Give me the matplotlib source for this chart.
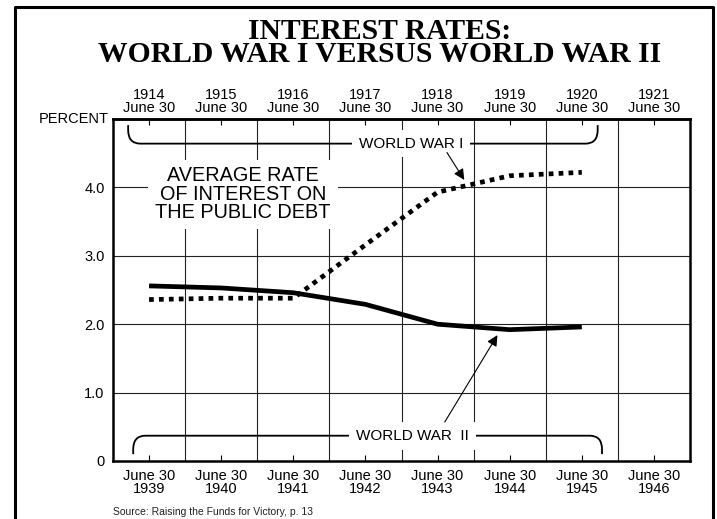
import matplotlib.pyplot as plt
from matplotlib.path import Path
from matplotlib.patches import PathPatch
from matplotlib.lines import Line2D

plt.rcParams['font.family'] = ['Liberation Sans', 'DejaVu Sans']

# data
ww1_years = ['1914', '1915', '1916', '1917', '1918', '1919', '1920', '1921']
ww2_years = ['1939', '1940', '1941', '1942', '1943', '1944', '1945', '1946']
ww1_rate = [2.36, 2.38, 2.38, 3.16, 3.93, 4.17, 4.22]
ww2_rate = [2.56, 2.53, 2.46, 2.29, 2.00, 1.92, 1.96]
y_ticks = [0, 1, 2, 3, 4]
y_labels = ['0', '1.0', '2.0', '3.0', '4.0']

pos = [i + 0.5 for i in range(len(ww1_years))]

fig = plt.figure(figsize=(7.17, 5.19), dpi=100)
ax = fig.add_axes([113 / 717, 1 - 461 / 519, 577 / 717, 342 / 519])
ax.set_xlim(0, 8)
ax.set_ylim(0, 5)

# grid
for gx in range(1, 8):
    ax.axvline(gx, color='#222222', lw=0.8, zorder=1)
for gy in range(1, 5):
    ax.axhline(gy, color='#222222', lw=0.8, zorder=1)

for s in ax.spines.values():
    s.set_linewidth(1.8)

ax.set_yticks(y_ticks)
ax.set_yticklabels(y_labels, fontsize=10.5)
ax.tick_params(axis='y', length=0, pad=6)

ax.set_xticks(pos)
ax.set_xticklabels(['June 30\n' + y for y in ww2_years], fontsize=10.5, linespacing=0.9)
ax.tick_params(axis='x', direction='in', length=4, width=0.8, pad=6)

top = ax.secondary_xaxis('top')
top.set_xticks(pos)
top.set_xticklabels([y + '\nJune 30' for y in ww1_years], fontsize=10.5, linespacing=0.9)
top.tick_params(direction='in', length=4, width=0.8, pad=3)
top.spines['top'].set_linewidth(1.8)

ax.text(-0.06, 5.0, 'PERCENT', ha='right', va='center', fontsize=10.5)

# lines
ax.plot(pos[:7], ww1_rate, color='black', lw=3.4, linestyle=(0, (1, 1.1)),
        dash_capstyle='butt', zorder=4)
ax.plot(pos[:7], ww2_rate, color='black', lw=3.4, solid_capstyle='butt', zorder=4)

# big label
ax.text(1.8, 3.9, 'AVERAGE RATE\nOF INTEREST ON\nTHE PUBLIC DEBT', ha='center',
        va='center', fontsize=14.3, linespacing=0.95, zorder=3,
        bbox=dict(facecolor='white', edgecolor='none', pad=5))


def bracket(x0, x1, yh, yend, rx, ry):
    d = 1 if yend > yh else -1
    verts = [(x0, yend), (x0, yh + d * ry), (x0, yh), (x0 + rx, yh),
             (x1 - rx, yh), (x1, yh), (x1, yh + d * ry), (x1, yend)]
    codes = [Path.MOVETO, Path.LINETO, Path.CURVE3, Path.CURVE3,
             Path.LINETO, Path.CURVE3, Path.CURVE3, Path.LINETO]
    ax.add_patch(PathPatch(Path(verts, codes), fill=False, lw=1.3,
                           color='black', zorder=2))


bracket(0.21, 6.72, 4.64, 4.91, 0.17, 0.2)
bracket(0.28, 6.78, 0.37, 0.10, 0.17, 0.2)

ax.text(4.13, 4.64, 'WORLD WAR I', ha='center', va='center', fontsize=11, zorder=3,
        bbox=dict(facecolor='white', edgecolor='none', pad=5))
ax.text(4.15, 0.37, 'WORLD WAR  II', ha='center', va='center', fontsize=11, zorder=3,
        bbox=dict(facecolor='white', edgecolor='none', pad=5))

ax.annotate('', xy=(4.87, 4.11), xytext=(4.63, 4.51),
            arrowprops=dict(arrowstyle='-|>', lw=0.8, color='black', mutation_scale=16,
                            shrinkA=0, shrinkB=0), zorder=5)
ax.annotate('', xy=(5.33, 1.84), xytext=(4.60, 0.57),
            arrowprops=dict(arrowstyle='-|>', lw=0.8, color='black', mutation_scale=16,
                            shrinkA=0, shrinkB=0), zorder=5)

# title and source
fig.text(380 / 717, 1 - 43 / 519, 'INTEREST RATES:\nWORLD WAR I VERSUS WORLD WAR II',
         ha='center', va='center', fontsize=21.3, fontweight='bold',
         family='Liberation Serif', linespacing=0.85)
fig.text(113 / 717, 1 - 512 / 519, 'Source: Raising the Funds for Victory, p. 13',
         ha='left', va='center', fontsize=7.5, color='#222222')

# page border
fig.add_artist(Line2D([15 / 717, 15 / 717, 713 / 717, 713 / 717],
                      [0, 1 - 7 / 519, 1 - 7 / 519, 0], color='black', lw=2.2,
                      transform=fig.transFigure))

fig.savefig('out.png', dpi=100)
